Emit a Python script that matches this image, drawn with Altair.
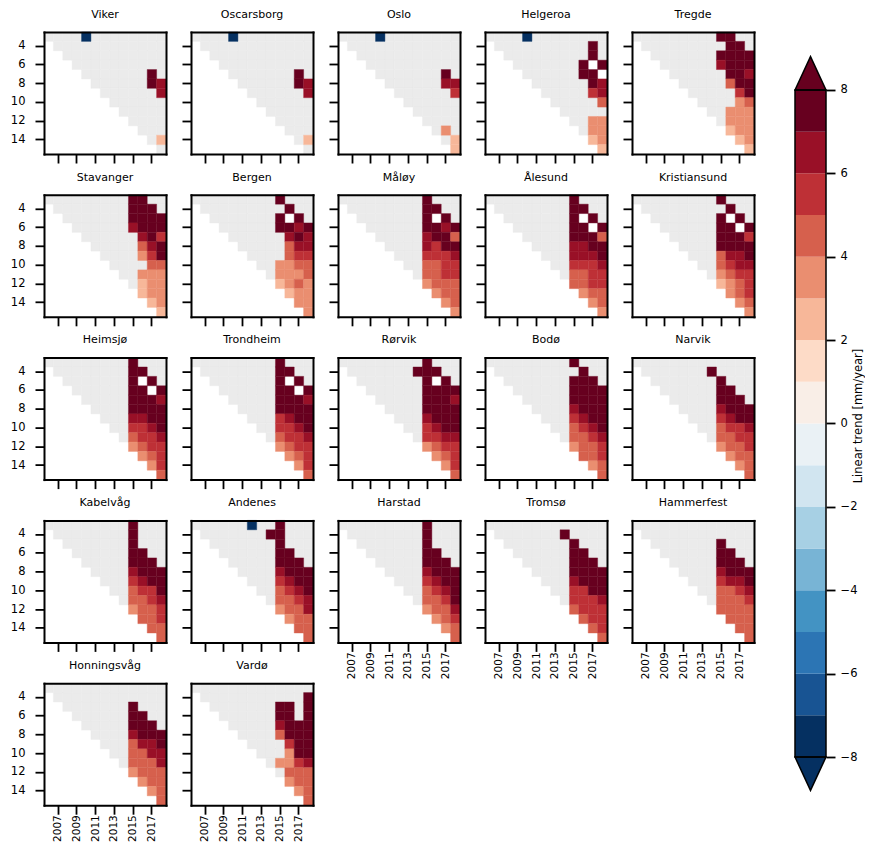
import altair as alt
import pandas as pd

stations = ["Viker", "Oscarsborg", "Oslo", "Helgeroa", "Tregde",
            "Stavanger", "Bergen", "Måløy", "Ålesund", "Kristiansund",
            "Heimsjø", "Trondheim", "Rørvik", "Bodø", "Narvik",
            "Kabelvåg", "Andenes", "Harstad", "Tromsø", "Hammerfest",
            "Honningsvåg", "Vardø"]

years = list(range(2006, 2019))        # x: end year of window
lengths = list(range(3, 16))           # y: window length [years]
year_ticks = [2007, 2009, 2011, 2013, 2015, 2017]
length_ticks = [4, 6, 8, 10, 12, 14]

# Trend class per cell for years 2012..2018 (one string per window length 3..15)
# '.' = no window, 'g' = not significant, 'w' = missing,
# '1'..'8' = significant trend in class (k-1, k] mm/yr, 'b' = below -7 mm/yr
grids = {
    "Viker": ["ggggggg", "ggggggg", "ggggggg", "ggggggg", "ggggg8g", "ggggg87", "gggggg7",
              ".gggggg", "..ggggg", "...gggg", "....ggg", ".....g3", "......g"],
    "Oscarsborg": ["ggggggg", "ggggggg", "ggggggg", "ggggggg", "ggggg8g", "ggggg87", "gggggg7",
                   ".gggggg", "..ggggg", "...gggg", "....ggg", ".....g3", "......g"],
    "Oslo": ["ggggggg", "ggggggg", "ggggggg", "ggggggg", "ggggg8g", "ggggg77", "gggggg6",
             ".gggggg", "..ggggg", "...gggg", "....g4g", ".....g3", "......3"],
    "Helgeroa": ["ggggggg", "ggggg8g", "ggggg8g", "gggg8w8", "gggg88w", "ggggg87", "ggggg67",
                 ".ggggg5", "..ggggg", "...gg44", "....g44", ".....34", "......3"],
    "Tregde": ["ggg88gg", "gggg88g", "ggg8888", "ggg7888", "gggg887", "gggg588", "ggggg68",
               ".gggg45", "..gg444", "...g444", "....344", ".....34", "......3"],
    "Stavanger": ["ggg88gg", "ggg888g", "ggg8888", "ggg7888", "gggg786", "gggg578", "gggg468",
                  ".gggg55", "..gg444", "...g344", "....344", ".....34", "......3"],
    "Bergen": ["ggg8ggg", "gggg8gg", "ggg8w8g", "ggg8878", "gggg787", "gggg577", "gggg566",
               ".gg4455", "..g4445", "...3454", "....344", ".....44", "......4"],
    "Måløy": ["ggg8ggg", "ggg88gg", "ggg8w8g", "ggg8878", "ggg7885", "ggg7688", "ggg6667",
              ".gg5566", "..g5566", "...4555", "....455", ".....45", "......4"],
    "Ålesund": ["ggg8ggg", "ggg88gg", "ggg8w8g", "ggg88w8", "ggg8885", "ggg7788", "ggg7778",
                ".gg6667", "..g5566", "...5566", "....455", ".....45", "......4"],
    "Kristiansund": ["ggg8ggg", "gggg8gg", "ggg8w8g", "ggg88w8", "ggg8886", "ggg8888", "ggg5778",
                     ".gg5677", "..g4566", "...3456", "....456", ".....45", "......4"],
    "Heimsjø": ["ggg8ggg", "ggg88gg", "ggg8w8g", "ggg88w8", "ggg8887", "ggg8888", "ggg7788",
                ".gg6678", "..g5667", "...4566", "....456", ".....46", "......5"],
    "Trondheim": ["ggg8ggg", "ggg88gg", "ggg8w8g", "ggg88w8", "ggg8887", "ggg8888", "ggg6788",
                  ".gg6678", "..g5667", "...4566", "....456", ".....46", "......5"],
    "Rørvik": ["ggg8ggg", "gg888gg", "ggg8w8g", "ggg8888", "ggg8887", "ggg8888", "ggg7888",
               ".gg6788", "..g6677", "...4566", "....456", ".....46", "......5"],
    "Bodø": ["ggg8ggg", "gggg8gg", "ggg888g", "ggg8888", "ggg8888", "ggg7888", "ggg6788",
             ".gg5678", "..g5567", "...4556", "....556", ".....45", "......5"],
    "Narvik": ["ggggggg", "gg8gggg", "ggg8ggg", "ggg88gg", "ggg888g", "ggg7888", "ggg6788",
               ".gg5667", "..g5566", "...4556", "....455", ".....45", "......5"],
    "Kabelvåg": ["ggg8ggg", "ggg8ggg", "ggg8ggg", "ggg88gg", "ggg888g", "ggg7888", "ggg6788",
                 ".gg5668", "..g5567", "...4556", "....556", ".....55", "......5"],
    "Andenes": ["bgg8ggg", "gg88ggg", "ggg8ggg", "ggg88gg", "ggg888g", "ggg7888", "ggg6788",
                ".gg5678", "..g5567", "...4557", "....455", ".....55", "......5"],
    "Harstad": ["ggg8ggg", "ggg8ggg", "ggg8ggg", "ggg88gg", "ggg888g", "ggg7888", "ggg6788",
                ".gg5678", "..g5568", "...4557", "....456", ".....45", "......5"],
    "Tromsø": ["ggggggg", "gg8gggg", "ggg8ggg", "ggg88gg", "ggg888g", "ggg8888", "ggg7888",
               ".gg6688", "..g6667", "...5666", "....566", ".....56", "......5"],
    "Hammerfest": ["ggggggg", "ggggggg", "ggg8ggg", "ggg88gg", "ggg888g", "ggg7888", "ggg6778",
                   ".gg5567", "..g5556", "...5555", "....555", ".....55", "......5"],
    "Honningsvåg": ["ggggggg", "ggggggg", "ggg8ggg", "ggg88gg", "ggg888g", "ggg7888", "ggg5778",
                    ".gg5577", "..g5557", "...4555", "....455", ".....45", "......5"],
    "Vardø": ["ggggggg", "gggggg8", "ggg88g8", "ggg88g8", "ggg7888", "ggg5888", "gggg688",
              ".ggg488", "..g4467", "...g555", "....455", ".....45", "......5"],
}
grid_first_year = 2012

# significant cells before 2012: (station, end year, window length, trend mm/yr)
early_cells = [("Viker", 2010, 3, -7.5), ("Oscarsborg", 2010, 3, -7.5),
               ("Oslo", 2010, 3, -7.5), ("Helgeroa", 2010, 3, -7.5)]

class_trend = {"1": 0.5, "2": 1.5, "3": 2.5, "4": 3.5, "5": 4.5, "6": 5.5,
               "7": 6.5, "8": 7.5, "b": -7.5}

cells = {}
for name in stations:
    rows = grids[name]
    for r, L in enumerate(lengths):
        for c, yr in enumerate(years):
            if c < r:
                continue
            code = "g" if yr < grid_first_year else rows[r][yr - grid_first_year]
            cells[(name, yr, L)] = code
for name, yr, L, v in early_cells:
    cells[(name, yr, L)] = v

recs = []
for (name, yr, L), code in cells.items():
    if code in (".", "w"):
        continue
    if code == "g":
        recs.append({"station": name, "year": yr, "length": L, "kind": "ns", "trend": 0.0})
    else:
        val = code if isinstance(code, float) else class_trend[code]
        recs.append({"station": name, "year": yr, "length": L, "kind": "sig", "trend": val})
df = pd.DataFrame(recs)

levels = list(range(-7, 8))
palette = ["#053061", "#185493", "#2c75b4", "#4393c3", "#78b4d5", "#a7d0e4", "#d1e5f0", "#eaf1f5",
           "#f9eee7", "#fddbc7", "#f7b799", "#ea8e70", "#d6604d", "#be3036", "#991027", "#67001f"]
cscale = alt.Scale(type="threshold", domain=levels, range=palette)

FONT = "DejaVu Sans"
FS = 11.5
P = 122
TICK = 9

xscale = alt.Scale(domain=years, paddingInner=0, paddingOuter=0)
yscale = alt.Scale(domain=lengths, paddingInner=0, paddingOuter=0)


def panel(name, show_x, show_y):
    base = alt.Chart(df).transform_filter(alt.datum.station == name)
    x_axis = alt.Axis(values=year_ticks, labels=show_x, labelAngle=270, labelPadding=0.5,
                      domain=True, domainColor="black", domainWidth=2, domainCap="square",
                      ticks=True, tickSize=TICK, tickWidth=1.8, tickColor="black",
                      labelFont=FONT, labelFontSize=10.5, labelColor="black", grid=False, zindex=1)
    y_axis = alt.Axis(values=length_ticks, labels=show_y, labelPadding=10,
                      domain=True, domainColor="black", domainWidth=2, domainCap="square",
                      ticks=True, tickSize=TICK, tickWidth=1.8, tickColor="black",
                      labelFont=FONT, labelFontSize=FS, labelColor="black", grid=False, zindex=1)
    top_axis = alt.Axis(orient="top", labels=False, ticks=False, domain=True, domainColor="black",
                        domainWidth=2, domainCap="square", grid=False, zindex=1)
    right_axis = alt.Axis(orient="right", labels=False, ticks=False, domain=True, domainColor="black",
                          domainWidth=2, domainCap="square", grid=False, zindex=1)
    ns = base.transform_filter(alt.datum.kind == "ns").mark_rect(
        color="#ebebeb", stroke="#ebebeb", strokeWidth=0.4).encode(
        x=alt.X("year:O", title=None, scale=xscale, axis=x_axis),
        y=alt.Y("length:O", title=None, scale=yscale, axis=y_axis))
    sig = base.transform_filter(alt.datum.kind == "sig").mark_rect(strokeWidth=0.4).encode(
        x=alt.X("year:O", title=None, scale=xscale, axis=None),
        y=alt.Y("length:O", title=None, scale=yscale, axis=None),
        color=alt.Color("trend:Q", scale=cscale, legend=None),
        stroke=alt.Stroke("trend:Q", scale=cscale, legend=None))
    frame = base.transform_filter(alt.datum.kind == "ns").mark_rect(opacity=0).encode(
        x=alt.X("year:O", title=None, scale=xscale, axis=top_axis),
        y=alt.Y("length:O", title=None, scale=yscale, axis=right_axis))
    return alt.layer(ns, sig, frame).resolve_axis(x="independent", y="independent").properties(
        width=P, height=P,
        title=alt.TitleParams(name, font=FONT, fontSize=11, fontWeight="normal",
                              color="black", offset=12, anchor="middle"))


columns = []
for j in range(5):
    names = stations[j::5]
    col = [panel(n, i == len(names) - 1, j == 0) for i, n in enumerate(names)]
    columns.append(alt.vconcat(*col, spacing=6.8))
grid = alt.hconcat(*columns, spacing=14)

# colour bar
cb_lo = list(range(-8, 8))
cb_df = pd.DataFrame({"lo": cb_lo, "hi": [v + 1 for v in cb_lo], "mid": [v + 0.5 for v in cb_lo]})
ext_df = pd.DataFrame({"x": [0, 0.5, 1, 0, 0.5, 1],
                       "tip": [8, 8.8, 8, -8, -8.8, -8],
                       "base": [8, 8, 8, -8, -8, -8],
                       "val": [8.4, 8.4, 8.4, -8.4, -8.4, -8.4],
                       "end": ["top"] * 3 + ["bottom"] * 3})
frame_df = pd.DataFrame({"lo": [-8], "hi": [8]})

CB_H = 767
ycb = alt.Scale(domain=[-9.007, -9.007 + CB_H / 41.69], nice=False, zero=False)
xcb = alt.Scale(domain=[0, 1], nice=False, zero=False)
cb_axis = alt.Axis(orient="right", values=list(range(-8, 9, 2)), domain=False, grid=False,
                   tickSize=TICK, tickWidth=1.8, tickColor="black", labelPadding=5,
                   labelFont=FONT, labelFontSize=FS, labelColor="black",
                   title="Linear trend [mm/year]", titleFont=FONT, titleFontSize=FS,
                   titleFontWeight="normal", titleColor="black", titleAngle=270, titlePadding=7)

bars = alt.Chart(cb_df).mark_rect().encode(
    x=alt.datum(0, scale=xcb, axis=None), x2=alt.datum(1),
    y=alt.Y("lo:Q", scale=ycb, axis=cb_axis), y2="hi:Q",
    color=alt.Color("mid:Q", scale=cscale, legend=None))
ext = alt.Chart(ext_df).mark_area(stroke="black", strokeWidth=1.5, orient="vertical").encode(
    x=alt.X("x:Q", scale=xcb, axis=None),
    y=alt.Y("tip:Q", scale=ycb, axis=cb_axis), y2="base:Q",
    color=alt.Color("val:Q", scale=cscale, legend=None),
    detail="end:N")
frame = alt.Chart(frame_df).mark_rect(filled=False, stroke="black", strokeWidth=1.5).encode(
    x=alt.datum(0, scale=xcb, axis=None), x2=alt.datum(1),
    y=alt.Y("lo:Q", scale=ycb, axis=cb_axis), y2="hi:Q")
colorbar = alt.layer(bars, ext, frame).properties(width=31, height=CB_H)

chart = alt.hconcat(grid, colorbar, spacing=37).properties(
    padding={"left": 2, "top": 0, "right": 0, "bottom": 0}
).configure_view(strokeWidth=0).configure_axis(grid=False)

chart.save("out.html", embed_options={"renderer": "svg", "actions": False})
